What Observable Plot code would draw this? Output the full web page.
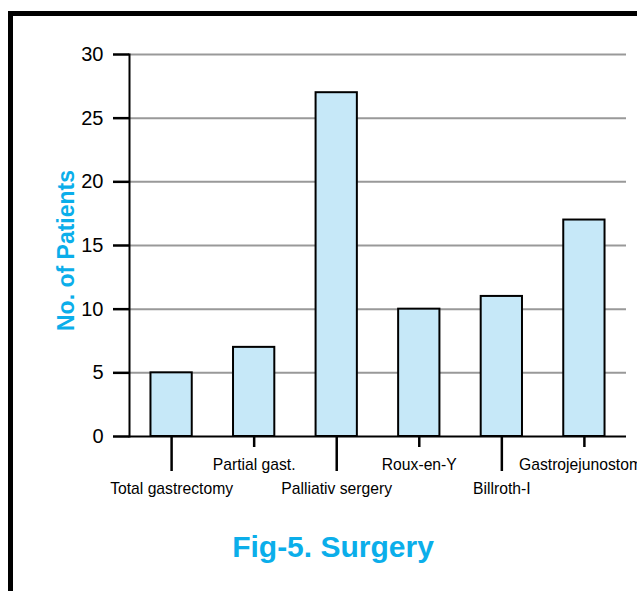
<!DOCTYPE html>
<html>
<head>
<meta charset="utf-8">
<script src="https://cdn.jsdelivr.net/npm/d3@7"></script>
<script src="https://cdn.jsdelivr.net/npm/@observablehq/plot@0.6"></script>
<style>
  html, body { margin: 0; padding: 0; background: white; overflow: hidden; }
  body { width: 637px; height: 591px; position: relative; font-family: "Liberation Sans", Arial, sans-serif; }
  #chart { position: absolute; left: 0; top: 0; }
  #frame { position: absolute; left: 8px; top: 11px; width: 700px; height: 700px;
           border-left: 5px solid #000; border-top: 5px solid #000; pointer-events: none; }
  #title { position: absolute; left: 30px; width: 606px; top: 530px; line-height: 30px;
           text-align: center; font: bold 30px "Liberation Sans", Arial, sans-serif; color: #0BAEEA; }
</style>
</head>
<body>
<div id="chart"></div>
<div id="frame"></div>
<div id="title">Fig-5. Surgery</div>
<script>
const categories = ["Total gastrectomy", "Partial gast.", "Palliativ sergery", "Roux-en-Y", "Billroth-I", "Gastrojejunostomy"];
const patients = [5, 7, 27, 10, 11, 17];
const yTicks = [0, 5, 10, 15, 20, 25, 30];
const yLabel = "No. of Patients";

const data = categories.map((c, i) => ({surgery: c, n: patients[i]}));
const lowerLabels = categories.filter((c, i) => i % 2 === 0);
const upperLabels = categories.filter((c, i) => i % 2 === 1);
const labelFont = "'Liberation Sans', Arial, sans-serif";

const chart = Plot.plot({
  width: 637,
  height: 520,
  marginTop: 54,
  marginBottom: 84,
  marginLeft: 129,
  marginRight: 11,
  style: {fontFamily: "'Liberation Sans', Arial, sans-serif", background: "white"},
  x: {domain: categories, paddingInner: 0.5, paddingOuter: 0.26, round: false, axis: null},
  y: {domain: [0, 30], axis: null},
  marks: [
    Plot.ruleY(yTicks.filter(d => d > 0), {stroke: "#999", strokeWidth: 2}),
    Plot.barY(data, {x: "surgery", y: "n", fill: "#C6E8F8", stroke: "#000", strokeWidth: 2}),
    Plot.ruleY([0], {stroke: "#000", strokeWidth: 2}),
    Plot.frame({anchor: "left", stroke: "#000", strokeWidth: 2}),
    Plot.axisY(yTicks, {tickSize: 16, tickPadding: 10, fontSize: 20, stroke: "#000", strokeWidth: 2.5, fill: "#000", label: null}),
    Plot.axisX(lowerLabels, {tickSize: 35, tickPadding: 11, fontSize: 15.7, fontFamily: labelFont, stroke: "#000", strokeWidth: 2.5, fill: "#000", label: null}),
    Plot.axisX(upperLabels, {tickSize: 11, tickPadding: 11, fontSize: 15.7, fontFamily: labelFont, stroke: "#000", strokeWidth: 2.5, fill: "#000", label: null}),
    Plot.text([yLabel], {frameAnchor: "left", rotate: -90, dx: -63, dy: 5, fontSize: 23, fontWeight: "bold", fill: "#0BAEEA", textAnchor: "middle", lineAnchor: "middle"})
  ]
});
document.getElementById("chart").appendChild(chart);
</script>
</body>
</html>
